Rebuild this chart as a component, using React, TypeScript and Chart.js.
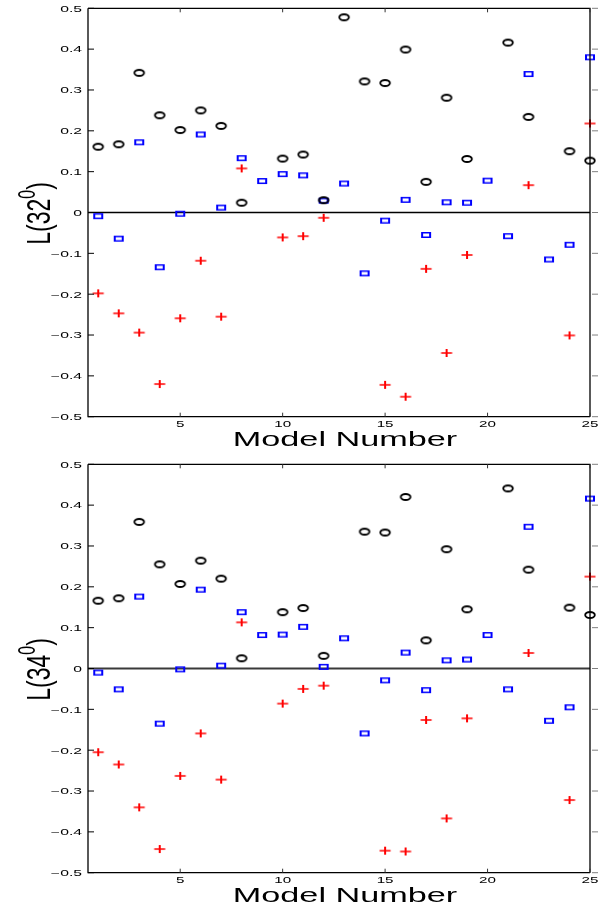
import React, { useEffect, useRef } from 'react';
import { Chart, registerables } from 'chart.js';

Chart.register(...registerables);

// ---------- data ----------
const models = [1, 2, 3, 4, 5, 6, 7, 8, 9, 10, 11, 12, 13, 14, 15, 16, 17, 18, 19, 20, 21, 22, 23, 24, 25];

const xTickValues = [5, 10, 15, 20, 25];
const xTickLabels = ['5', '10', '15', '20', '25'];
const yTickValues = [-0.5, -0.4, -0.3, -0.2, -0.1, 0, 0.1, 0.2, 0.3, 0.4, 0.5];
const yTickLabels = ['\u22120.5', '\u22120.4', '\u22120.3', '\u22120.2', '\u22120.1', '0', '0.1', '0.2', '0.3', '0.4', '0.5'];

const xAxisTitle = 'Model Number';

// L(32°) panel
const circles32 = [0.161, 0.167, 0.342, 0.238, 0.202, 0.250, 0.212, 0.024, null, 0.132, 0.142, 0.030, 0.478, 0.321, 0.317, 0.399, 0.075, 0.281, 0.131, null, 0.416, 0.234, null, 0.150, 0.127];
const squares32 = [-0.009, -0.064, 0.172, -0.134, -0.003, 0.191, 0.012, 0.133, 0.077, 0.094, 0.091, 0.029, 0.071, -0.149, -0.020, 0.031, -0.055, 0.025, 0.024, 0.078, -0.058, 0.339, -0.115, -0.079, 0.380];
const crosses32 = [-0.198, -0.247, -0.294, -0.420, -0.259, -0.118, -0.255, 0.108, null, -0.061, -0.058, -0.013, null, null, -0.422, -0.451, -0.138, -0.344, -0.104, null, null, 0.067, null, -0.301, 0.218];

// L(34°) panel
const circles34 = [0.166, 0.172, 0.359, 0.255, 0.207, 0.264, 0.220, 0.025, null, 0.138, 0.148, 0.031, null, 0.335, 0.333, 0.420, 0.069, 0.292, 0.145, null, 0.441, 0.242, null, 0.149, 0.131];
const squares34 = [-0.010, -0.051, 0.176, -0.135, -0.002, 0.193, 0.007, 0.138, 0.082, 0.083, 0.102, 0.004, 0.074, -0.159, -0.029, 0.039, -0.053, 0.020, 0.022, 0.082, -0.051, 0.347, -0.128, -0.095, 0.416];
const crosses34 = [-0.205, -0.235, -0.340, -0.442, -0.263, -0.159, -0.272, 0.113, null, -0.086, -0.050, -0.042, null, null, -0.446, -0.448, -0.126, -0.367, -0.122, null, null, 0.038, null, -0.322, 0.225];

// ---------- helpers ----------
const FONT = '"Liberation Sans", Arial, Helvetica, sans-serif';
const CANVAS_W = 608;
const CANVAS_H = 454;

function toPoints(vals: (number | null)[]) {
  const out: { x: number; y: number }[] = [];
  vals.forEach((v, i) => {
    if (v !== null && v !== undefined) out.push({ x: models[i], y: v });
  });
  return out;
}

function makeMarker(kind: 'circle' | 'square' | 'cross'): HTMLCanvasElement {
  const c = document.createElement('canvas');
  c.width = 16;
  c.height = 10;
  const g = c.getContext('2d')!;
  g.translate(8, 5);
  if (kind === 'circle') {
    g.save();
    g.scale(1.6, 1);
    g.beginPath();
    g.arc(0, 0, 3.0, 0, Math.PI * 2);
    g.restore();
    g.strokeStyle = '#000000';
    g.lineWidth = 1.9;
    g.stroke();
  } else if (kind === 'square') {
    g.fillStyle = '#0000ff';
    g.fillRect(-5, -3, 10, 1.5);
    g.fillRect(-5, 1.5, 10, 1.5);
    g.fillRect(-5, -3, 2, 6);
    g.fillRect(3, -3, 2, 6);
  } else {
    g.fillStyle = '#ff0000';
    g.fillRect(-5.5, -0.75, 11, 1.5);
    g.fillRect(-1, -4, 2, 8);
  }
  return c;
}

function stretchText(
  ctx: CanvasRenderingContext2D,
  text: string,
  x: number,
  y: number,
  size: number,
  sx: number,
  align: CanvasTextAlign,
  baseline: CanvasTextBaseline
) {
  ctx.save();
  ctx.font = `${size}px ${FONT}`;
  ctx.textAlign = align;
  ctx.textBaseline = baseline;
  ctx.fillStyle = '#000000';
  ctx.translate(x, y);
  ctx.scale(sx, 1);
  ctx.fillText(text, 0, 0);
  ctx.restore();
}

const matlabAxesPlugin = {
  id: 'matlabAxes',
  afterDraw(chart: any, _args: any, opts: any) {
    const ctx: CanvasRenderingContext2D = chart.ctx;
    const { left, right, top, bottom } = chart.chartArea;
    const xs = chart.scales.x;
    const ys = chart.scales.y;
    ctx.save();

    // box
    ctx.strokeStyle = '#000000';
    ctx.lineWidth = 1.3;
    ctx.beginPath();
    ctx.moveTo(left, top);
    ctx.lineTo(left, bottom);
    ctx.lineTo(right, bottom);
    ctx.moveTo(left, top);
    ctx.lineTo(right, top);
    ctx.lineTo(right, bottom);
    ctx.stroke();

    // y ticks
    yTickValues.forEach((v, i) => {
      const py = ys.getPixelForValue(v);
      ctx.strokeStyle = '#000000';
      ctx.lineWidth = 1;
      ctx.beginPath();
      ctx.moveTo(left, py);
      ctx.lineTo(left + 6, py);
      ctx.stroke();
      ctx.strokeStyle = '#808080';
      ctx.beginPath();
      ctx.moveTo(right + 2, py);
      ctx.lineTo(right + 8, py);
      ctx.stroke();
      stretchText(ctx, yTickLabels[i], 82, py + 1, 8.5, 1.85, 'right', 'middle');
    });

    // x ticks
    xTickValues.forEach((v, i) => {
      const px = xs.getPixelForValue(v);
      ctx.strokeStyle = '#333333';
      ctx.lineWidth = 1;
      ctx.beginPath();
      ctx.moveTo(px, bottom);
      ctx.lineTo(px, bottom - 4);
      ctx.moveTo(px, top);
      ctx.lineTo(px, top + 4);
      ctx.stroke();
      stretchText(ctx, xTickLabels[i], px, bottom + 7.5, 9.5, 1.6, 'center', 'middle');
    });

    // x axis title
    stretchText(ctx, xAxisTitle, 345, bottom + 29.3, 21, 1.63, 'center', 'alphabetic');

    // y axis title with superscript (stretched horizontally like the rest of the figure)
    const cy = (top + bottom) / 2 + 1;
    ctx.translate(50, cy);
    ctx.scale(1.45, 1);
    ctx.rotate(-Math.PI / 2);
    ctx.fillStyle = '#000000';
    ctx.textBaseline = 'alphabetic';
    ctx.textAlign = 'left';
    const mainFont = `23px ${FONT}`;
    const supFont = `16px ${FONT}`;
    ctx.font = mainFont;
    const w1 = ctx.measureText(opts.labelMain).width;
    const w3 = ctx.measureText(opts.labelClose).width;
    ctx.font = supFont;
    const w2 = ctx.measureText(opts.labelSup).width;
    let x0 = -(w1 + w2 + w3) / 2;
    ctx.font = mainFont;
    ctx.fillText(opts.labelMain, x0, 0);
    x0 += w1;
    ctx.font = supFont;
    ctx.fillText(opts.labelSup, x0, -10.5);
    x0 += w2;
    ctx.font = mainFont;
    ctx.fillText(opts.labelClose, x0, 0);

    ctx.restore();
  },
};

interface PanelSpec {
  circles: (number | null)[];
  squares: (number | null)[];
  crosses: (number | null)[];
  labelMain: string;
  labelSup: string;
  padTop: number;
  plotBottom: number;
  zeroColor: string;
  zeroWidth: number;
}

const panels: PanelSpec[] = [
  { circles: circles32, squares: squares32, crosses: crosses32, labelMain: 'L(32', labelSup: '0', padTop: 8.3, plotBottom: 416.7, zeroColor: '#000000', zeroWidth: 1.6 },
  { circles: circles34, squares: squares34, crosses: crosses34, labelMain: 'L(34', labelSup: '0', padTop: 10.3, plotBottom: 418.7, zeroColor: '#3a3a3a', zeroWidth: 2.2 },
];

function buildConfig(p: PanelSpec): any {
  const markers = {
    circle: makeMarker('circle'),
    square: makeMarker('square'),
    cross: makeMarker('cross'),
  };
  return {
    type: 'scatter',
    data: {
      datasets: [
        {
          type: 'line',
          data: [{ x: 0.5, y: 0 }, { x: 25, y: 0 }],
          borderColor: p.zeroColor,
          borderWidth: p.zeroWidth,
          pointRadius: 0,
          fill: false,
          order: 10,
        },
        { data: toPoints(p.crosses), pointStyle: markers.cross, pointRadius: 5, clip: false, order: 3 },
        { data: toPoints(p.squares), pointStyle: markers.square, pointRadius: 5, clip: false, order: 2 },
        { data: toPoints(p.circles), pointStyle: markers.circle, pointRadius: 5, clip: false, order: 1 },
      ],
    },
    options: {
      animation: false,
      responsive: false,
      events: [],
      layout: { padding: { left: 0, right: 18, top: p.padTop, bottom: 0 } },
      plugins: {
        legend: { display: false },
        tooltip: { enabled: false },
        matlabAxes: { labelMain: p.labelMain, labelSup: p.labelSup, labelClose: ')' },
      },
      scales: {
        x: {
          type: 'linear',
          min: 0.5,
          max: 25,
          ticks: { display: false },
          grid: { display: false },
          border: { display: false },
          afterFit: (s: any) => {
            s.height = CANVAS_H - p.plotBottom;
          },
        },
        y: {
          type: 'linear',
          min: -0.5,
          max: 0.5,
          ticks: { display: false },
          grid: { display: false },
          border: { display: false },
          afterFit: (s: any) => {
            s.width = 88;
          },
        },
      },
    },
    plugins: [matlabAxesPlugin],
  };
}

function Panel({ spec }: { spec: PanelSpec }) {
  const ref = useRef<HTMLCanvasElement | null>(null);
  useEffect(() => {
    if (!ref.current) return;
    const chart = new Chart(ref.current, buildConfig(spec));
    return () => chart.destroy();
  }, [spec]);
  return (
    <canvas
      ref={ref}
      width={CANVAS_W}
      height={CANVAS_H}
      style={{ display: 'block', width: CANVAS_W, height: CANVAS_H }}
    />
  );
}

export default function App() {
  return (
    <div style={{ position: 'absolute', left: 0, top: 0, width: 608, height: 908, background: '#ffffff' }}>
      <Panel spec={panels[0]} />
      <Panel spec={panels[1]} />
    </div>
  );
}
